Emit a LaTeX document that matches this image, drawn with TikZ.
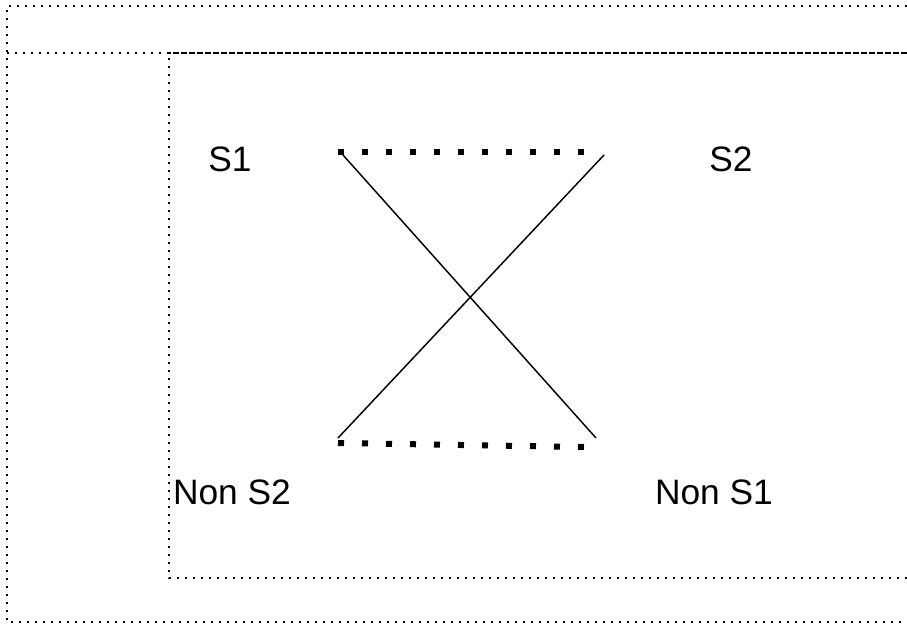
\documentclass[tikz,border=0pt]{standalone}
\usepackage{fontspec}
\setmainfont{Liberation Sans}
\usepackage{tikz}
\usetikzlibrary{calc}

\tikzset{
  frameline/.style={line width=1.6pt, dash pattern=on 1.6pt off 4.4pt},
  innerline/.style={line width=1.6pt, dash pattern=on 1.6pt off 1.4pt},
  bigdots/.style={line width=4.5pt, dash pattern=on 4.5pt off 13.5pt},
  cross/.style={line width=1.1pt},
  lbl/.style={font=\fontsize{26.5}{32}\selectfont, inner sep=0pt}
}

\begin{document}
\begin{tikzpicture}[x=0.75pt, y=-0.75pt]
    \useasboundingbox (0,0) rectangle (907,624);
        % frames
        \draw[frameline] (907,6) -- (7,6) -- (7,622) -- (907,622);
        \draw[frameline] (7,53) -- (907,53);
        \draw[innerline] (169,53) -- (907,53);
        \draw[frameline] (169,58) -- (169,578) -- (907,578);
        % labels
        \node[lbl] (s1) at (230,159) {S1};
        \node[lbl] (s2) at (731,159) {S2};
        \node[lbl] (nons2) at (232,492) {Non S2};
        \node[lbl] (nons1) at (714,492) {Non S1};
        % ends of the lines
        \coordinate (a1) at (343,155);
        \coordinate (b1) at (596,438);
        \coordinate (a2) at (604,155);
        \coordinate (b2) at (338,438);
        \coordinate (t1) at (338,152);
        \coordinate (t2) at (584,152);
        \coordinate (u1) at (338,443);
        \coordinate (u2) at (584,447);
        \draw[cross] (a1) -- (b1);
        \draw[cross] (a2) -- (b2);
        \draw[bigdots] (t1) -- (t2);
        \draw[bigdots] (u1) -- (u2);
\end{tikzpicture}
\end{document}
